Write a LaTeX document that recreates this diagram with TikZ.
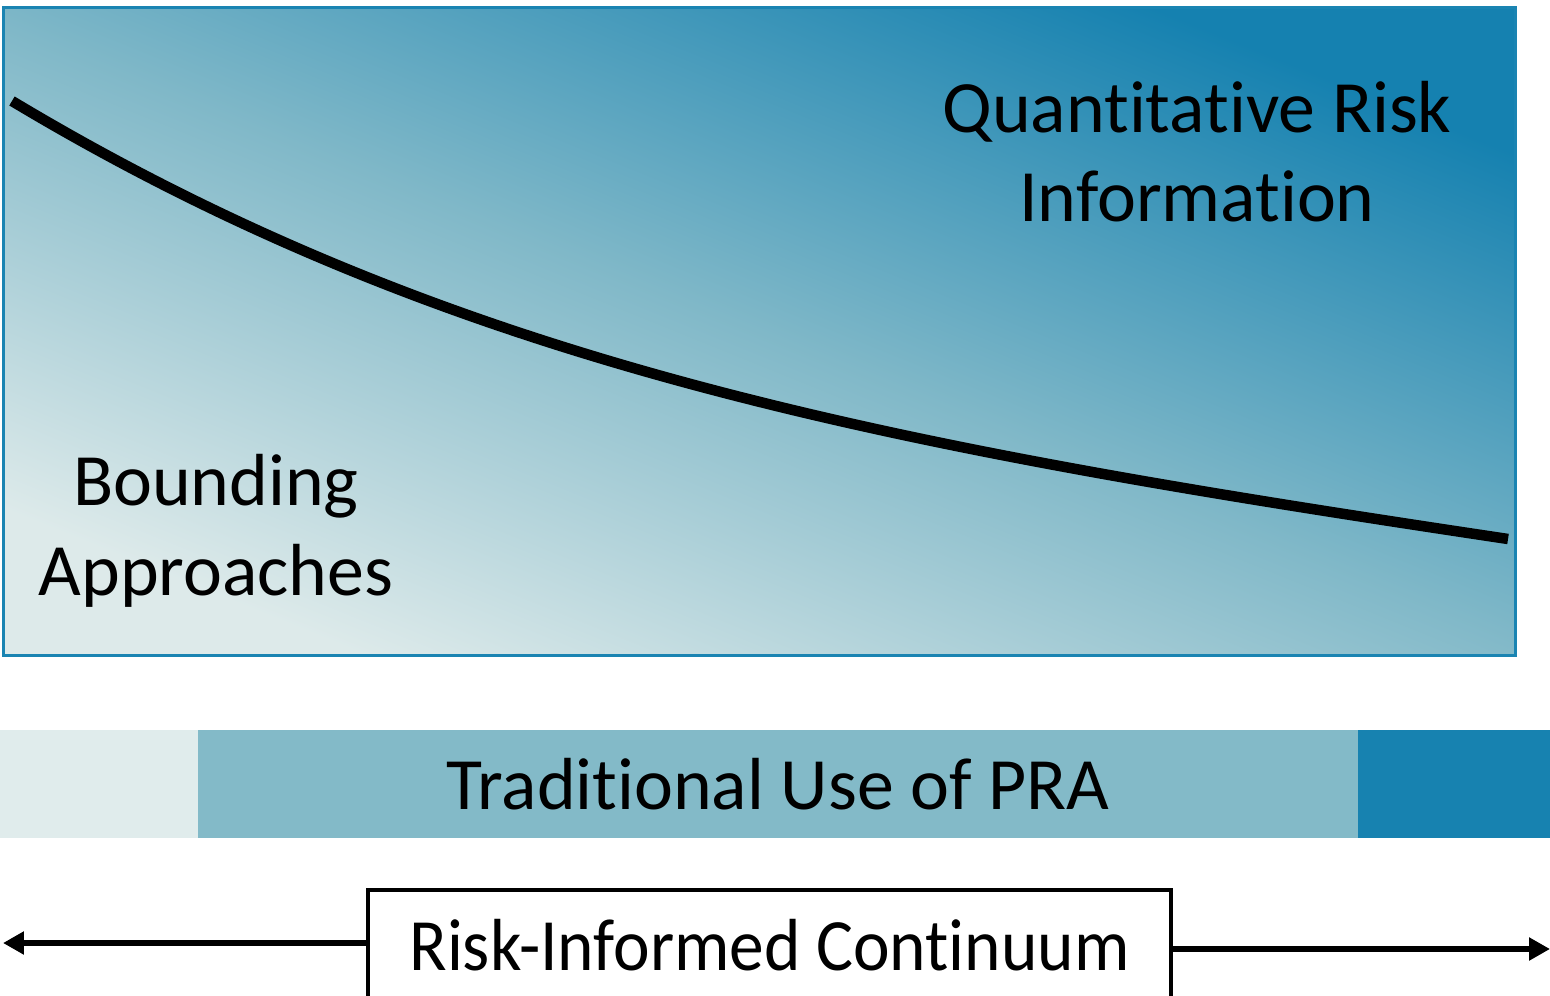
\documentclass[tikz,border=0pt]{standalone}
\usepackage{fontspec}
\setmainfont{Carlito}[Ligatures=NoCommon]
\newfontfamily\contfont{Carlito}[Ligatures=NoCommon, FakeStretch=0.94]
\usetikzlibrary{positioning,arrows.meta}
\definecolor{panelLight}{HTML}{DDEAEA}
\definecolor{panelMid}{HTML}{80B8C8}
\definecolor{panelDark}{HTML}{1581B0}
\definecolor{panelEdge}{HTML}{1A84B2}
\definecolor{barLight}{HTML}{E0ECEC}
\definecolor{barMid}{HTML}{83BAC8}
\definecolor{barDark}{HTML}{1782B0}
\tikzset{
    big text/.style = {
        font=\fontsize{42}{51}\selectfont,
        align=center,
        inner sep=0pt,
        },
    panel/.style = {
        draw=panelEdge,
        line width=0.06cm,
        shade,
        bottom color=panelLight,
        top color=panelDark,
        middle color=panelMid,
        shading angle=-22,
        minimum width=30.24cm,
        minimum height=12.96cm,
        inner sep=0pt,
        },
    curve/.style = {
        line width=0.21cm,
        },
    bar seg/.style = {
        minimum height=2.16cm,
        inner sep=0pt,
        outer sep=0pt,
        font=\fontsize{42}{51}\selectfont,
        },
    cont box/.style = {
        draw,
        fill=white,
        line width=0.08cm,
        minimum width=16.06cm,
        minimum height=2.2cm,
        inner sep=0pt,
        font=\contfont\fontsize{42}{51}\selectfont,
        },
    cont arrow/.style = {
        line width=0.12cm,
        -{Triangle[length=0.42cm, width=0.44cm]},
        },
}
\begin{document}
\begin{tikzpicture}[x=0.02cm, y=-0.02cm]
    \useasboundingbox (0,0) rectangle (1550,996);

    \node[panel] (panel) at (759.5,331.5) {};
    \draw[curve] (12,101) .. controls (462,371) and (908,449) .. (1508,539);
    \node[big text, anchor=base] (qri) at (1197,222) {Quantitative Risk\\Information};
    \node[big text, anchor=base] (ba) at (216,595) {Bounding\\Approaches};

    \node[bar seg, fill=barLight, minimum width=3.96cm] (low) at (99,784) {};
    \node[bar seg, fill=barMid, minimum width=23.2cm, right=0pt of low] (trad) {Traditional Use of PRA};
    \node[bar seg, fill=barDark, minimum width=3.84cm, right=0pt of trad] (high) {};

    \node[cont box] (cont) at (769.5,945) {Risk-Informed Continuum};
    \coordinate (lend) at (3,943);
    \coordinate (rend) at (1550,949);
    \draw[cont arrow] (cont.west |- lend) -- (lend);
    \draw[cont arrow] (cont.east |- rend) -- (rend);
\end{tikzpicture}
\end{document}
